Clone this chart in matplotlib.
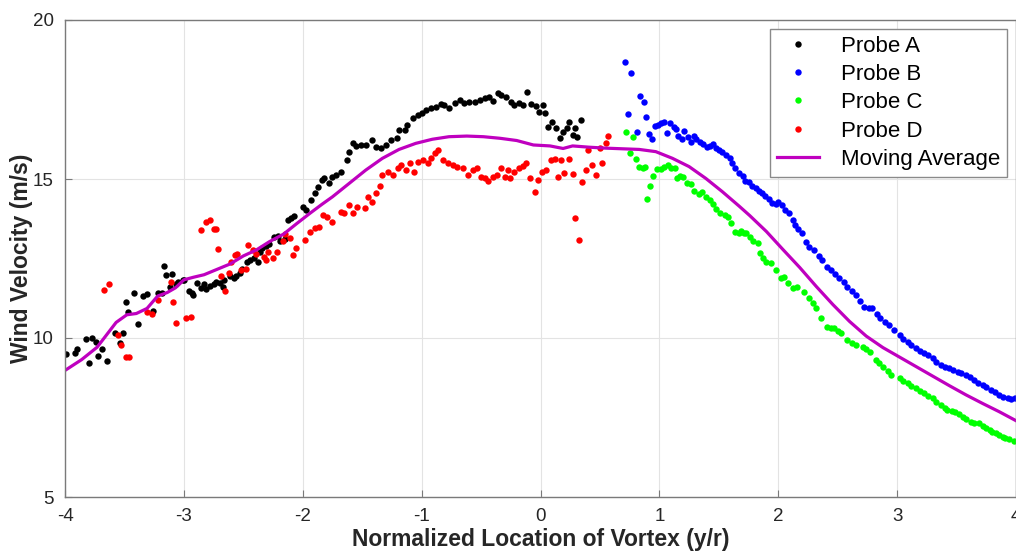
#!/usr/bin/env python3
"""Wind velocity across the vortex, four probes plus moving average."""
import matplotlib
matplotlib.use("Agg")
import matplotlib.pyplot as plt

# Probe A (black)
probe_a_x = [
    -3.99, -3.92, -3.90, -3.82, -3.80, -3.77, -3.74, -3.72, -3.69, -3.65,
    -3.58, -3.54, -3.51, -3.49, -3.47, -3.42, -3.39, -3.34, -3.31, -3.26,
    -3.22, -3.18, -3.17, -3.15, -3.12, -3.10, -3.07, -3.05, -3.01, -3.00,
    -2.96, -2.93, -2.92, -2.89, -2.86, -2.83, -2.81, -2.78, -2.75, -2.73,
    -2.70, -2.67, -2.66, -2.61, -2.58, -2.56, -2.53, -2.51, -2.47, -2.44,
    -2.41, -2.38, -2.36, -2.34, -2.31, -2.28, -2.24, -2.21, -2.19, -2.15,
    -2.12, -2.10, -2.07, -2.00, -1.97, -1.93, -1.90, -1.87, -1.84, -1.82,
    -1.78, -1.75, -1.72, -1.68, -1.63, -1.61, -1.58, -1.55, -1.51, -1.47,
    -1.42, -1.38, -1.34, -1.30, -1.26, -1.21, -1.19, -1.14, -1.12, -1.07,
    -1.03, -1.00, -0.96, -0.92, -0.88, -0.84, -0.81, -0.77, -0.72, -0.68,
    -0.64, -0.60, -0.55, -0.51, -0.47, -0.43, -0.40, -0.36, -0.33, -0.29,
    -0.25, -0.22, -0.18, -0.15, -0.11, -0.08, -0.04, -0.01, 0.02, 0.04,
    0.06, 0.10, 0.13, 0.16, 0.19, 0.22, 0.24, 0.27, 0.29, 0.31, 0.34,
]
probe_a_y = [
    9.49, 9.52, 9.66, 9.96, 9.21, 9.99, 9.88, 9.43, 9.65, 9.29,
    10.15, 9.84, 10.15, 11.14, 10.82, 11.40, 10.43, 11.32, 11.38, 10.84,
    11.43, 11.40, 12.25, 11.99, 11.60, 12.02, 11.71, 11.77, 11.83, 11.83,
    11.47, 11.43, 11.36, 11.73, 11.58, 11.71, 11.55, 11.63, 11.71, 11.77,
    11.74, 11.60, 11.83, 11.94, 11.88, 11.94, 12.05, 12.16, 12.40, 12.44,
    12.52, 12.40, 12.69, 12.83, 12.89, 12.96, 13.19, 13.22, 13.05, 13.11,
    13.72, 13.78, 13.83, 14.13, 14.03, 14.34, 14.55, 14.76, 14.97, 15.02,
    14.86, 15.07, 15.13, 15.23, 15.60, 15.86, 16.12, 16.04, 16.07, 16.07,
    16.23, 16.02, 15.96, 16.07, 16.23, 16.28, 16.54, 16.54, 16.70, 16.91,
    17.01, 17.07, 17.17, 17.22, 17.27, 17.36, 17.33, 17.22, 17.38, 17.48,
    17.38, 17.43, 17.43, 17.48, 17.54, 17.59, 17.46, 17.69, 17.64, 17.59,
    17.43, 17.33, 17.40, 17.33, 17.74, 17.36, 17.30, 17.12, 17.33, 17.07,
    16.65, 16.80, 16.59, 16.28, 16.49, 16.59, 16.80, 16.38, 16.59, 16.33, 16.85,
]

# Probe B (blue)
probe_b_x = [
    0.71, 0.74, 0.76, 0.81, 0.84, 0.87, 0.89, 0.91, 0.94, 0.96,
    0.99, 1.01, 1.04, 1.06, 1.09, 1.12, 1.14, 1.16, 1.19, 1.21,
    1.24, 1.27, 1.29, 1.31, 1.34, 1.37, 1.40, 1.43, 1.45, 1.48,
    1.50, 1.53, 1.56, 1.59, 1.61, 1.64, 1.67, 1.70, 1.72, 1.75,
    1.78, 1.81, 1.84, 1.86, 1.89, 1.92, 1.95, 1.98, 2.00, 2.03,
    2.06, 2.09, 2.12, 2.14, 2.17, 2.20, 2.23, 2.26, 2.30, 2.34,
    2.37, 2.41, 2.44, 2.48, 2.51, 2.55, 2.58, 2.62, 2.65, 2.69,
    2.72, 2.76, 2.79, 2.83, 2.86, 2.90, 2.93, 2.97, 3.02, 3.05,
    3.09, 3.12, 3.16, 3.19, 3.23, 3.26, 3.30, 3.33, 3.37, 3.40,
    3.44, 3.47, 3.51, 3.54, 3.58, 3.61, 3.65, 3.68, 3.72, 3.75,
    3.79, 3.82, 3.86, 3.89, 3.93, 3.96, 3.99,
]
probe_b_y = [
    18.69, 17.04, 18.34, 16.48, 17.62, 17.42, 16.96, 16.43, 16.26, 16.68,
    16.70, 16.77, 16.80, 16.46, 16.75, 16.65, 16.56, 16.35, 16.25, 16.52,
    16.33, 16.17, 16.35, 16.25, 16.17, 16.10, 16.02, 16.04, 16.10, 15.99,
    15.91, 15.86, 15.75, 15.65, 15.51, 15.34, 15.20, 15.09, 14.95, 14.89,
    14.78, 14.71, 14.63, 14.55, 14.46, 14.36, 14.26, 14.21, 14.29, 14.18,
    14.02, 13.94, 13.71, 13.55, 13.42, 13.29, 13.03, 12.87, 12.77, 12.58,
    12.45, 12.22, 12.14, 12.01, 11.88, 11.75, 11.61, 11.48, 11.35, 11.17,
    10.98, 10.95, 10.93, 10.75, 10.62, 10.50, 10.41, 10.25, 10.09, 9.98,
    9.88, 9.78, 9.67, 9.60, 9.52, 9.45, 9.36, 9.25, 9.15, 9.10,
    9.05, 9.00, 8.94, 8.90, 8.84, 8.76, 8.68, 8.60, 8.52, 8.45,
    8.37, 8.29, 8.21, 8.15, 8.10, 8.08, 8.10,
]

# Probe C (green)
probe_c_x = [
    0.72, 0.75, 0.78, 0.80, 0.83, 0.86, 0.88, 0.90, 0.92, 0.95,
    0.98, 1.01, 1.04, 1.07, 1.10, 1.13, 1.15, 1.17, 1.20, 1.23,
    1.27, 1.29, 1.33, 1.36, 1.39, 1.43, 1.45, 1.48, 1.51, 1.55,
    1.58, 1.60, 1.64, 1.67, 1.69, 1.71, 1.73, 1.76, 1.79, 1.83,
    1.85, 1.87, 1.90, 1.94, 1.98, 2.02, 2.05, 2.08, 2.12, 2.16,
    2.22, 2.26, 2.29, 2.32, 2.36, 2.41, 2.44, 2.47, 2.50, 2.53,
    2.58, 2.62, 2.65, 2.71, 2.74, 2.77, 2.82, 2.85, 2.88, 2.92,
    2.95, 3.02, 3.05, 3.09, 3.12, 3.16, 3.19, 3.23, 3.26, 3.30,
    3.33, 3.37, 3.40, 3.42, 3.46, 3.49, 3.52, 3.55, 3.58, 3.62,
    3.65, 3.69, 3.72, 3.75, 3.78, 3.80, 3.83, 3.86, 3.89, 3.91,
    3.94, 3.98,
]
probe_c_y = [
    16.47, 15.81, 16.33, 15.62, 15.37, 15.34, 15.39, 14.36, 14.79, 15.09,
    15.30, 15.30, 15.39, 15.44, 15.34, 15.34, 15.02, 15.09, 15.05, 14.88,
    14.84, 14.63, 14.53, 14.60, 14.44, 14.34, 14.21, 14.05, 13.94, 13.87,
    13.82, 13.63, 13.34, 13.31, 13.37, 13.29, 13.29, 13.19, 13.06, 12.98,
    12.66, 12.51, 12.40, 12.35, 12.14, 11.88, 11.91, 11.72, 11.56, 11.61,
    11.46, 11.25, 11.10, 10.93, 10.62, 10.36, 10.33, 10.30, 10.22, 10.15,
    9.94, 9.85, 9.78, 9.73, 9.65, 9.57, 9.31, 9.20, 9.10, 8.95,
    8.84, 8.73, 8.66, 8.57, 8.50, 8.42, 8.34, 8.26, 8.18, 8.10,
    8.00, 7.89, 7.80, 7.74, 7.70, 7.68, 7.60, 7.53, 7.45, 7.37,
    7.33, 7.32, 7.24, 7.16, 7.10, 7.05, 7.00, 6.95, 6.90, 6.85,
    6.81, 6.77,
]

# Probe D (red)
probe_d_x = [
    -3.67, -3.63, -3.55, -3.53, -3.49, -3.46, -3.31, -3.27, -3.22, -3.11,
    -3.09, -3.07, -2.98, -2.94, -2.86, -2.81, -2.78, -2.75, -2.73, -2.71,
    -2.69, -2.65, -2.62, -2.60, -2.57, -2.55, -2.52, -2.48, -2.46, -2.42,
    -2.39, -2.33, -2.31, -2.29, -2.25, -2.22, -2.17, -2.15, -2.11, -2.08,
    -2.06, -1.98, -1.94, -1.90, -1.86, -1.83, -1.80, -1.75, -1.68, -1.65,
    -1.61, -1.58, -1.54, -1.48, -1.45, -1.42, -1.38, -1.35, -1.33, -1.28,
    -1.24, -1.20, -1.17, -1.13, -1.10, -1.06, -1.03, -0.99, -0.95, -0.92,
    -0.89, -0.86, -0.82, -0.78, -0.74, -0.70, -0.65, -0.61, -0.57, -0.53,
    -0.50, -0.47, -0.44, -0.40, -0.37, -0.33, -0.30, -0.27, -0.26, -0.22,
    -0.18, -0.15, -0.12, -0.09, -0.05, -0.02, 0.01, 0.05, 0.09, 0.12,
    0.15, 0.17, 0.20, 0.24, 0.27, 0.29, 0.32, 0.35, 0.38, 0.40,
    0.43, 0.47, 0.50, 0.52, 0.55, 0.57,
]
probe_d_y = [
    11.51, 11.71, 10.10, 9.77, 9.40, 9.40, 10.82, 10.77, 11.21, 11.77,
    11.14, 10.47, 10.62, 10.66, 13.39, 13.66, 13.70, 13.44, 13.44, 12.81,
    11.96, 11.47, 12.05, 12.39, 12.61, 12.63, 12.14, 12.16, 12.94, 12.77,
    12.63, 12.55, 12.44, 12.72, 12.52, 12.69, 13.05, 13.27, 13.16, 12.61,
    12.83, 13.08, 13.34, 13.45, 13.50, 13.87, 13.82, 13.66, 13.97, 13.92,
    14.18, 13.92, 14.13, 14.08, 14.44, 14.29, 14.55, 14.78, 15.13, 15.23,
    15.13, 15.34, 15.44, 15.28, 15.49, 15.23, 15.54, 15.60, 15.49, 15.65,
    15.81, 15.91, 15.60, 15.49, 15.44, 15.39, 15.34, 15.13, 15.28, 15.34,
    15.05, 15.02, 14.95, 15.07, 15.13, 15.34, 15.07, 15.28, 15.02, 15.23,
    15.34, 15.41, 15.49, 15.02, 14.60, 14.97, 15.23, 15.28, 15.60, 15.62,
    15.07, 15.60, 15.18, 15.62, 15.16, 13.76, 13.08, 14.92, 15.28, 15.91,
    15.44, 15.13, 15.96, 15.49, 16.14, 16.35,
]

# Moving average (magenta line)
avg_x = [
    -4.00, -3.86, -3.73, -3.65, -3.57, -3.48, -3.40, -3.31, -3.22, -3.14,
    -3.07, -3.00, -2.92, -2.83, -2.72, -2.61, -2.50, -2.39, -2.28, -2.16,
    -2.05, -1.94, -1.84, -1.75, -1.61, -1.47, -1.33, -1.19, -1.05, -0.91,
    -0.77, -0.62, -0.48, -0.34, -0.20, -0.06, 0.08, 0.19, 0.27, 0.41,
    0.55, 0.69, 0.83, 0.97, 1.11, 1.25, 1.39, 1.53, 1.67, 1.76,
    1.90, 2.04, 2.18, 2.32, 2.46, 2.60, 2.74, 2.88, 3.02, 3.16,
    3.30, 3.44, 3.58, 3.72, 3.86, 4.00,
]
avg_y = [
    8.98, 9.32, 9.71, 10.10, 10.49, 10.73, 10.77, 10.93, 11.32, 11.43,
    11.58, 11.83, 11.91, 11.99, 12.16, 12.33, 12.58, 12.77, 13.03, 13.27,
    13.60, 13.92, 14.20, 14.44, 14.86, 15.28, 15.65, 15.93, 16.12, 16.25,
    16.33, 16.35, 16.33, 16.28, 16.21, 16.07, 16.04, 15.96, 16.04, 16.00,
    15.97, 15.95, 15.93, 15.86, 15.65, 15.39, 15.02, 14.60, 14.15, 13.85,
    13.35, 12.78, 12.22, 11.62, 11.05, 10.52, 10.06, 9.70, 9.40, 9.10,
    8.80, 8.50, 8.21, 7.94, 7.68, 7.40,
]

x_ticks = [-4, -3, -2, -1, 0, 1, 2, 3, 4]
y_ticks = [5, 10, 15, 20]


def main() -> int:
    plt.rcParams["font.family"] = ["Liberation Sans", "DejaVu Sans"]
    plt.rcParams["axes.unicode_minus"] = False

    fig = plt.figure(figsize=(10.16, 5.54), dpi=100)
    ax = fig.add_axes([65 / 1016, 57 / 554, 951 / 1016, 477 / 554])

    ms = 4.6
    ax.plot(probe_a_x, probe_a_y, "o", color="black", markersize=ms,
            markeredgewidth=0, label="Probe A")
    ax.plot(probe_b_x, probe_b_y, "o", color="#0000ff", markersize=ms,
            markeredgewidth=0, label="Probe B")
    ax.plot(probe_c_x, probe_c_y, "o", color="#00ff00", markersize=ms,
            markeredgewidth=0, label="Probe C")
    ax.plot(probe_d_x, probe_d_y, "o", color="#ff0000", markersize=ms,
            markeredgewidth=0, label="Probe D")
    ax.plot(avg_x, avg_y, "-", color="#bf00bf", linewidth=2.3,
            label="Moving Average")

    ax.set_xlim(-4, 4)
    ax.set_ylim(5, 20)
    ax.set_xticks(x_ticks)
    ax.set_yticks(y_ticks)
    ax.grid(True, color="#e3e3e3", linewidth=0.8)
    ax.set_axisbelow(True)

    for side in ("left", "bottom", "top", "right"):
        ax.spines[side].set_color("#7a7a7a")
        ax.spines[side].set_linewidth(1.0)
    ax.tick_params(direction="in", length=5, width=0.8, colors="#7a7a7a",
                   labelcolor="#262626", labelsize=13.5, pad=8)

    ax.set_xlabel("Normalized Location of Vortex (y/r)", fontsize=16.5,
                  fontweight="bold", color="#262626", labelpad=2)
    ax.set_ylabel("Wind Velocity (m/s)", fontsize=16.5, fontweight="bold",
                  color="#262626", labelpad=0)

    leg = ax.legend(loc="upper right", fontsize=16, frameon=True,
                    fancybox=False, framealpha=1, edgecolor="#8a8a8a",
                    handlelength=1.9, handletextpad=1.0, labelspacing=0.33,
                    borderpad=0.3, borderaxespad=0.4)
    leg.get_frame().set_linewidth(1.0)

    fig.savefig("out.png", dpi=100)
    plt.close(fig)
    return 0


if __name__ == "__main__":
    raise SystemExit(main())
